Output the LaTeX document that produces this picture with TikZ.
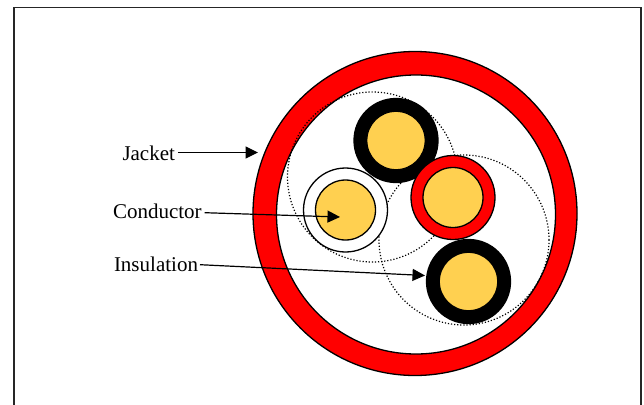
\documentclass[tikz,border=0pt]{standalone}
\usepackage{fontspec}
\setmainfont{Liberation Serif}
\usetikzlibrary{arrows.meta}
\definecolor{cond}{RGB}{255,208,80}
\definecolor{jack}{RGB}{255,0,0}
\tikzset{
  disc/.style={circle,draw=black,line width=1.3pt,inner sep=0pt,outer sep=0pt},
  guide/.style={circle,draw=black,line width=1.2pt,dash pattern=on 1.2pt off 1.9pt,inner sep=0pt,outer sep=0pt,minimum size=170pt},
  core/.style={disc,fill=cond,minimum size=60pt},
  sheath/.style={disc,minimum size=84pt},
  lbl/.style={font=\fontsize{21}{24}\selectfont,inner sep=0pt,outer sep=0pt},
  pointer/.style={-{Triangle[length=12.5pt,width=12pt]},line width=1.2pt,black}
}
\begin{document}
\begin{tikzpicture}[x=1pt,y=-1pt]
\useasboundingbox (0,0) rectangle (644,404);
\fill[white] (0,0) rectangle (644,404);
\draw[line width=1.5pt,black!85] (14,412) -- (14,7.5) -- (641,7.5) -- (641,412);
% jacket
\node[disc,fill=jack,minimum size=324pt] (outer) at (415,213.5) {};
\node[disc,fill=white,minimum size=279pt] (inner) at (416,214.5) {};
% dotted guide circles
\node[guide] (guideA) at (372.5,177) {};
\node[guide] (guideB) at (464,240) {};
% conductors
\node[sheath,fill=black] (s1) at (396,140.5) {};
\node[core,minimum size=58.5pt] (c1) at (396,140.5) {};
\node[sheath,fill=jack] (s2) at (453,197.5) {};
\node[core] (c2) at (453,197.5) {};
\node[sheath,fill=white] (s3) at (345.5,210) {};
\node[core] (c3) at (345.5,210) {};
\node[sheath,fill=black] (s4) at (468.5,281.5) {};
\node[core,minimum size=58.5pt] (c4) at (468.5,281.5) {};
% labels
\node[lbl,anchor=base west] (jacket) at (122.5,160) {Jacket};
\node[lbl,anchor=base west] (conductor) at (113,218) {Conductor};
\node[lbl,anchor=base west] (insulation) at (114,271.5) {Insulation};
% free ends
\coordinate (jt) at (258,152.5);
\coordinate (ct) at (340,217);
\coordinate (it) at (425,275.5);
\draw[pointer] (jacket.east |- jt) ++(3,0) -- (jt);
\draw[pointer] (conductor.east |- 0,212.7) ++(3,0) -- (ct);
\draw[pointer] (insulation.east |- 0,264.7) ++(2,0) -- (it);
\end{tikzpicture}
\end{document}
